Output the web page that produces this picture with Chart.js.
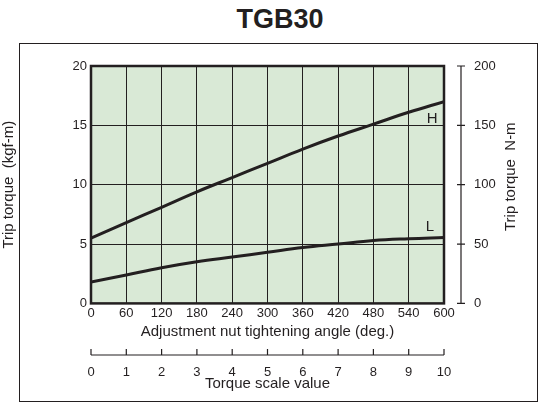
<!DOCTYPE html>
<html><head><meta charset="utf-8">
<script src="https://cdn.jsdelivr.net/npm/chart.js@4"></script>
<style>
body{margin:0;background:#fff;font-family:Arial,"Liberation Sans",sans-serif}
#wrap{position:relative;width:560px;height:420px}
#title{position:absolute;left:0;top:4px;width:560px;text-align:center;font-size:27px;font-weight:bold;color:#231f20}
#frame{position:absolute;left:19px;top:43px;width:517px;height:357px;border:1px solid #231f20}
canvas{position:absolute;left:0;top:0}
</style></head><body>
<div id="wrap"><div id="title">TGB30</div><div id="frame"></div><canvas id="c" width="560" height="420"></canvas></div>
<script>
const angles=[0,60,120,180,240,300,360,420,480,540,600];
const torqueH=[5.5,6.8,8.1,9.4,10.6,11.8,13.0,14.1,15.1,16.1,17.0];
const torqueL=[1.8,2.4,3.0,3.5,3.9,4.3,4.7,5.0,5.3,5.45,5.55];
const scaleValues=[0,1,2,3,4,5,6,7,8,9,10];
const seriesLabels=['H','L'];
const rightTitle='Trip torque  N-m';
const C='#231f20';
const bg={id:'bg',beforeDraw(ch){const a=ch.chartArea,x=ch.ctx;x.save();x.fillStyle='#d9e9d6';x.fillRect(a.left,a.top,a.right-a.left,a.bottom-a.top);x.restore();},
afterDraw(ch){const a=ch.chartArea,x=ch.ctx;x.save();x.strokeStyle=C;x.lineWidth=2.5;x.strokeRect(a.left,a.top,a.right-a.left,a.bottom-a.top);
 const y2=ch.scales.y2;const rx=461;x.lineWidth=1.2;x.beginPath();x.moveTo(rx,y2.top);x.lineTo(rx,y2.bottom);
 y2.ticks.forEach(t=>{const p=y2.getPixelForValue(t.value);x.moveTo(rx-4,p);x.lineTo(rx+4,p);});x.stroke();
 const s=ch.scales.x2;const ly=s.top+12;x.beginPath();x.moveTo(s.left,ly);x.lineTo(s.right,ly);
 s.ticks.forEach(t=>{const p=s.getPixelForValue(t.value);x.moveTo(p,ly);x.lineTo(p,ly-6);});x.stroke();
 x.fillStyle=C;x.font='15px Arial';x.textAlign='center';
 const xs=ch.scales.x,ys=ch.scales.y;
 x.fillText(seriesLabels[0],xs.getPixelForValue(580),ys.getPixelForValue(15.2));
 x.fillText(seriesLabels[1],xs.getPixelForValue(576),ys.getPixelForValue(6.1));
 x.translate(511,(a.top+a.bottom)/2-8);x.rotate(-Math.PI/2);x.textBaseline='middle';x.fillText(rightTitle,0,0);
 x.restore();}};
new Chart(document.getElementById('c'),{type:'line',
data:{datasets:[
{data:angles.map((a,i)=>({x:a,y:torqueH[i]})),borderColor:C,borderWidth:3,pointRadius:0,tension:0.4,xAxisID:'x',yAxisID:'y'},
{data:angles.map((a,i)=>({x:a,y:torqueL[i]})),borderColor:C,borderWidth:3,pointRadius:0,tension:0.4,xAxisID:'x',yAxisID:'y'}]},
options:{responsive:false,animation:false,plugins:{legend:{display:false},tooltip:{enabled:false}},
layout:{padding:{top:66,left:0,right:0,bottom:27}},
scales:{
x:{type:'linear',position:'bottom',min:0,max:600,afterBuildTicks:s=>{s.ticks=angles.map(v=>({value:v}));},
 grid:{color:C,lineWidth:1,drawTicks:false},border:{display:false},
 ticks:{color:C,font:{size:13,family:'Arial'},padding:2,maxRotation:0},
 title:{display:true,text:'Adjustment nut tightening angle (deg.)',color:C,font:{size:15,family:'Arial'},padding:{top:0,bottom:2}}},
x2:{type:'linear',position:'bottom',min:0,max:10,afterBuildTicks:s=>{s.ticks=scaleValues.map(v=>({value:v}));},
 grid:{display:false},border:{display:false},
 ticks:{color:C,font:{size:13,family:'Arial'},padding:14,maxRotation:0},
 title:{display:true,text:'Torque scale value',color:C,font:{size:15,family:'Arial'},padding:{top:0,bottom:0}},
 afterFit:s=>{s.height=50;}},
y:{min:0,max:20,afterBuildTicks:s=>{s.ticks=[0,5,10,15,20].map(v=>({value:v}));},
 grid:{color:C,lineWidth:1,drawTicks:false},border:{display:false},
 ticks:{color:C,font:{size:13,family:'Arial'},padding:4},
 title:{display:true,text:'Trip torque  (kgf-m)',color:C,font:{size:15,family:'Arial'},padding:{top:0,bottom:12}},
 afterFit:s=>{s.width=91;}},
y2:{position:'right',min:0,max:200,afterBuildTicks:s=>{s.ticks=[0,50,100,150,200].map(v=>({value:v}));},
 grid:{display:false},border:{display:false},
 ticks:{color:C,font:{size:13,family:'Arial'},padding:22},
 afterFit:s=>{s.width=116;}}
}},plugins:[bg]});
</script></body></html>
